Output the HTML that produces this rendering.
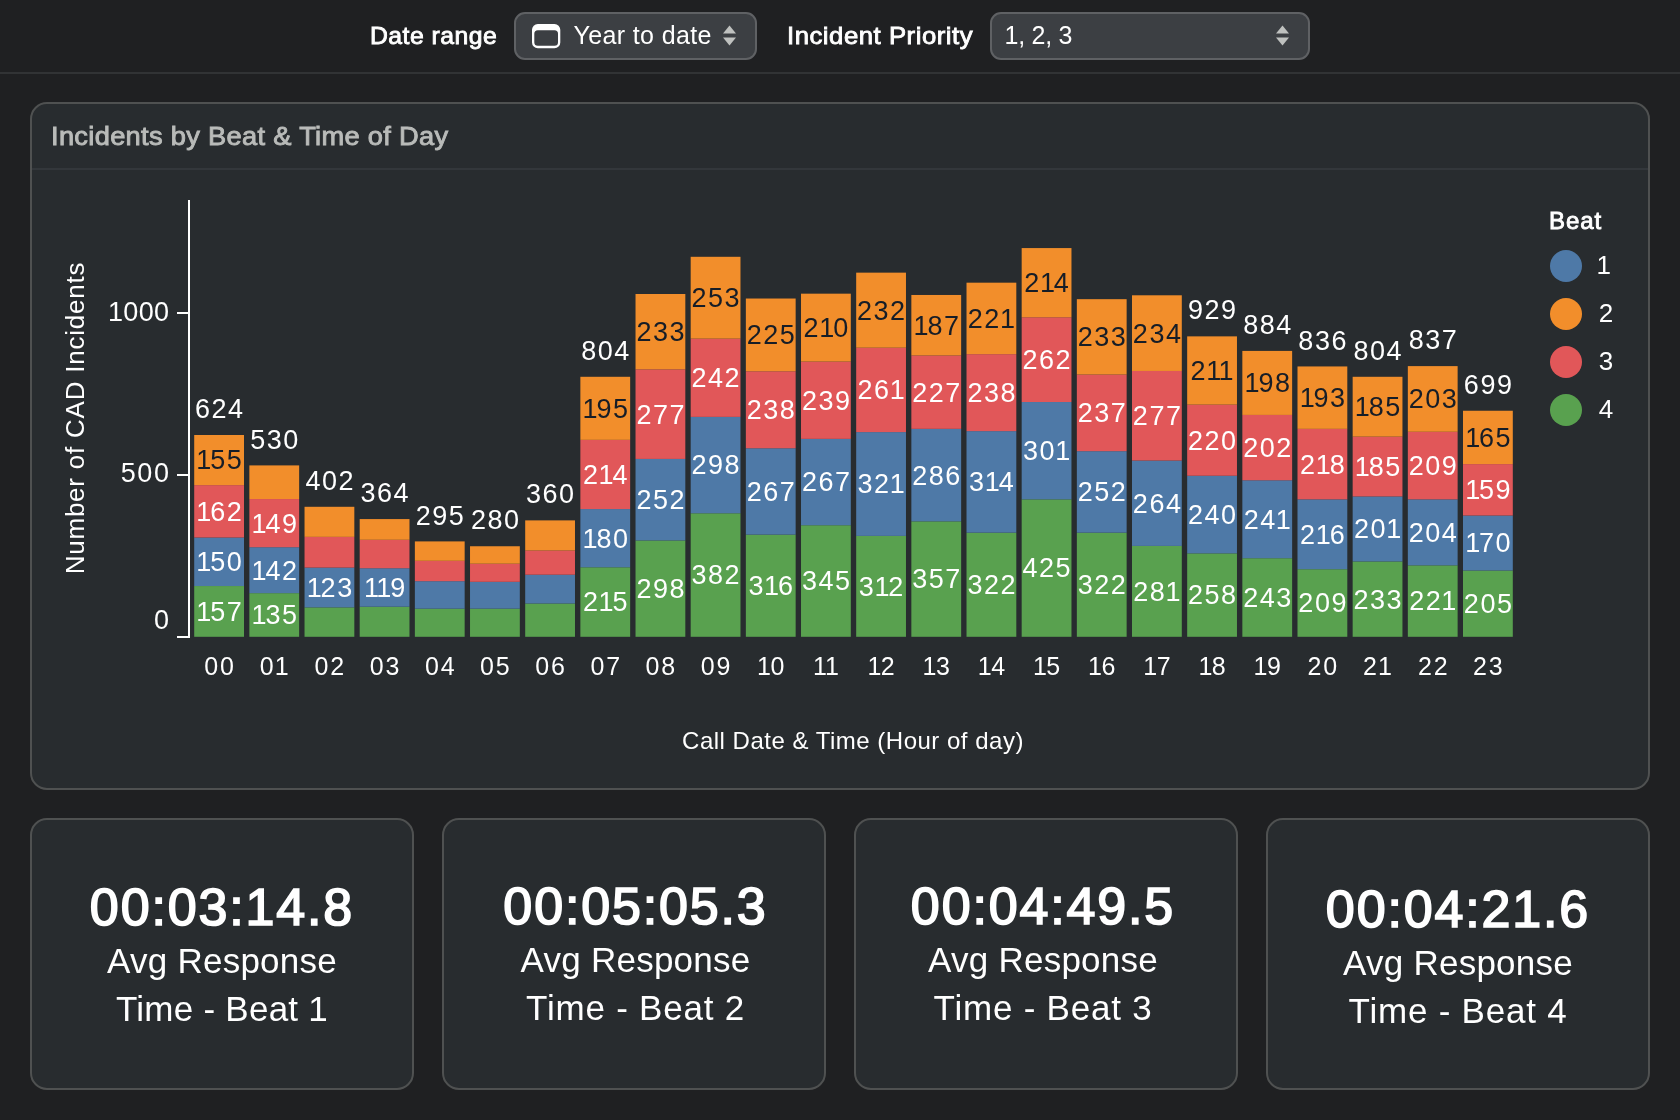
<!DOCTYPE html>
<html><head><meta charset="utf-8"><title>Incidents by Beat</title>
<style>
*{box-sizing:border-box;margin:0;padding:0}
html,body{width:1680px;height:1120px;overflow:hidden;background:#1f2022;font-family:"Liberation Sans",sans-serif;color:#fff}
.abs{position:absolute}
#topbar{position:absolute;left:0;top:0;width:1680px;height:74px;border-bottom:2px solid #313335}
.lbl{position:absolute;font-weight:normal;-webkit-text-stroke:0.85px #fff;font-size:24px;line-height:28px;white-space:nowrap;color:#fff}
.sel{position:absolute;top:12px;height:48px;border:2px solid #5f6164;border-radius:11px;background:#3c3f43}
.sel .txt{position:absolute;font-size:25px;line-height:28px;top:7px;white-space:nowrap;color:#fff}
.card{position:absolute;background:#282c2f;border:2px solid #4f5151;border-radius:17px}
#title{position:absolute;left:51px;top:120.7px;letter-spacing:0.3px;transform-origin:0 0;transform:scaleX(1.048);font-size:26px;line-height:30px;font-weight:normal;-webkit-text-stroke:0.9px #b9bbb9;color:#b9bbb9;white-space:nowrap}
#hdiv{position:absolute;left:32px;top:168px;width:1616px;height:2px;background:#33373b}
.kpi{position:absolute;width:382px;text-align:center;white-space:nowrap}
.kpi .n{position:absolute;left:0;width:100%;font-weight:normal;-webkit-text-stroke:1.7px #fff;font-size:52px;line-height:56px;letter-spacing:1.85px}
.kpi .t{position:absolute;left:0;width:100%;font-size:35px;line-height:48px;letter-spacing:0.25px}
svg text{font-family:"Liberation Sans",sans-serif}
.bl{font-size:27px;text-anchor:middle;dominant-baseline:central}
.xl{font-size:25px;text-anchor:middle;dominant-baseline:central;letter-spacing:2.2px}
.yl{font-size:27px;text-anchor:end;dominant-baseline:central}
#wrap{position:absolute;left:0;top:0;width:1680px;height:1120px;will-change:transform}
</style></head><body><div id="wrap">
<div id="topbar"></div>
<div class="lbl" style="left:370px;top:21.5px;letter-spacing:0.47px;transform-origin:0 0;transform:scaleX(1.03)">Date range</div>
<div class="sel" style="left:514px;width:243px">
 <svg class="abs" style="left:15.8px;top:9.8px" width="30" height="26" viewBox="0 0 30 26"><path fill="#fff" fill-rule="evenodd" d="M5.8 0 h16.700000000000003 a5.8 5.8 0 0 1 5.8 5.8 v12.6 a5.8 5.8 0 0 1 -5.8 5.8 h-16.700000000000003 a5.8 5.8 0 0 1 -5.8 -5.8 v-12.6 a5.8 5.8 0 0 1 5.8 -5.8 Z M5.8 6.3 h16.7 a3.5 3.5 0 0 1 3.5 3.5 v8.5 a3.5 3.5 0 0 1 -3.5 3.5 h-16.7 a3.5 3.5 0 0 1 -3.5 -3.5 v-8.5 a3.5 3.5 0 0 1 3.5 -3.5 Z"/></svg>
 <div class="txt" style="left:57.5px;letter-spacing:0.36px">Year to date</div>
 <svg class="abs" style="left:205.5px;top:10.2px" width="16" height="24" viewBox="0 0 16 24"><path d="M1 9.5 L7.5 1.5 L14 9.5 Z M1 13.5 L7.5 21.5 L14 13.5 Z" fill="#bfc1bf"/></svg>
</div>
<div class="lbl" style="left:787px;top:21.5px;letter-spacing:0.5px;transform-origin:0 0;transform:scaleX(1.07)">Incident Priority</div>
<div class="sel" style="left:990px;width:320px">
 <div class="txt" style="left:12.5px;letter-spacing:-0.25px">1, 2, 3</div>
 <svg class="abs" style="left:283px;top:10.2px" width="16" height="24" viewBox="0 0 16 24"><path d="M1 9.5 L7.5 1.5 L14 9.5 Z M1 13.5 L7.5 21.5 L14 13.5 Z" fill="#bfc1bf"/></svg>
</div>

<div class="card" style="left:30px;top:102px;width:1620px;height:688px"></div>
<div id="title">Incidents by Beat &amp; Time of Day</div>
<div id="hdiv"></div>

<svg class="abs" style="left:0;top:0" width="1680" height="800" viewBox="0 0 1680 800">
<rect x="188" y="200" width="2" height="438" fill="#fff"/>
<rect x="177" y="636" width="12" height="2" fill="#fff"/>
<rect x="177" y="474" width="12" height="2" fill="#fff"/>
<rect x="177" y="312" width="12" height="2" fill="#fff"/>
<text x="169.3" y="311.8" fill="#fff" class="yl" style="letter-spacing:0.3px">1000</text>
<text x="170.6" y="473.1" fill="#fff" class="yl" style="letter-spacing:1.6px">500</text>
<text x="169" y="620.1" fill="#fff" class="yl">0</text>
<text transform="translate(75,418) rotate(-90)" fill="#fff" style="font-size:26px;text-anchor:middle;dominant-baseline:central;letter-spacing:0.78px">Number of CAD Incidents</text>
<rect x="194.20" y="586.03" width="49.8" height="50.77" fill="#59a14f"/>
<rect x="194.20" y="537.52" width="49.8" height="48.51" fill="#4e79a7"/>
<rect x="194.20" y="485.13" width="49.8" height="52.39" fill="#e15759"/>
<rect x="194.20" y="435.00" width="49.8" height="50.13" fill="#f28e2b"/>
<rect x="249.36" y="593.14" width="49.8" height="43.66" fill="#59a14f"/>
<rect x="249.36" y="547.22" width="49.8" height="45.92" fill="#4e79a7"/>
<rect x="249.36" y="499.03" width="49.8" height="48.19" fill="#e15759"/>
<rect x="249.36" y="465.40" width="49.8" height="33.63" fill="#f28e2b"/>
<rect x="304.53" y="607.37" width="49.8" height="29.43" fill="#59a14f"/>
<rect x="304.53" y="567.59" width="49.8" height="39.78" fill="#4e79a7"/>
<rect x="304.53" y="536.87" width="49.8" height="30.72" fill="#e15759"/>
<rect x="304.53" y="506.79" width="49.8" height="30.08" fill="#f28e2b"/>
<rect x="359.69" y="606.72" width="49.8" height="30.08" fill="#59a14f"/>
<rect x="359.69" y="568.24" width="49.8" height="38.48" fill="#4e79a7"/>
<rect x="359.69" y="539.78" width="49.8" height="28.46" fill="#e15759"/>
<rect x="359.69" y="519.08" width="49.8" height="20.70" fill="#f28e2b"/>
<rect x="414.86" y="608.66" width="49.8" height="28.14" fill="#59a14f"/>
<rect x="414.86" y="581.18" width="49.8" height="27.49" fill="#4e79a7"/>
<rect x="414.86" y="560.80" width="49.8" height="20.37" fill="#e15759"/>
<rect x="414.86" y="541.40" width="49.8" height="19.40" fill="#f28e2b"/>
<rect x="470.02" y="608.66" width="49.8" height="28.14" fill="#59a14f"/>
<rect x="470.02" y="581.82" width="49.8" height="26.84" fill="#4e79a7"/>
<rect x="470.02" y="563.71" width="49.8" height="18.11" fill="#e15759"/>
<rect x="470.02" y="546.25" width="49.8" height="17.46" fill="#f28e2b"/>
<rect x="525.19" y="603.49" width="49.8" height="33.31" fill="#59a14f"/>
<rect x="525.19" y="574.71" width="49.8" height="28.78" fill="#4e79a7"/>
<rect x="525.19" y="550.45" width="49.8" height="24.25" fill="#e15759"/>
<rect x="525.19" y="520.38" width="49.8" height="30.08" fill="#f28e2b"/>
<rect x="580.36" y="567.27" width="49.8" height="69.53" fill="#59a14f"/>
<rect x="580.36" y="509.06" width="49.8" height="58.21" fill="#4e79a7"/>
<rect x="580.36" y="439.85" width="49.8" height="69.21" fill="#e15759"/>
<rect x="580.36" y="376.79" width="49.8" height="63.06" fill="#f28e2b"/>
<rect x="635.52" y="540.43" width="49.8" height="96.37" fill="#59a14f"/>
<rect x="635.52" y="458.93" width="49.8" height="81.50" fill="#4e79a7"/>
<rect x="635.52" y="369.35" width="49.8" height="89.58" fill="#e15759"/>
<rect x="635.52" y="294.00" width="49.8" height="75.35" fill="#f28e2b"/>
<rect x="690.68" y="513.26" width="49.8" height="123.54" fill="#59a14f"/>
<rect x="690.68" y="416.89" width="49.8" height="96.37" fill="#4e79a7"/>
<rect x="690.68" y="338.63" width="49.8" height="78.26" fill="#e15759"/>
<rect x="690.68" y="256.80" width="49.8" height="81.82" fill="#f28e2b"/>
<rect x="745.85" y="534.61" width="49.8" height="102.19" fill="#59a14f"/>
<rect x="745.85" y="448.26" width="49.8" height="86.35" fill="#4e79a7"/>
<rect x="745.85" y="371.29" width="49.8" height="76.97" fill="#e15759"/>
<rect x="745.85" y="298.52" width="49.8" height="72.76" fill="#f28e2b"/>
<rect x="801.01" y="525.23" width="49.8" height="111.57" fill="#59a14f"/>
<rect x="801.01" y="438.88" width="49.8" height="86.35" fill="#4e79a7"/>
<rect x="801.01" y="361.59" width="49.8" height="77.29" fill="#e15759"/>
<rect x="801.01" y="293.67" width="49.8" height="67.91" fill="#f28e2b"/>
<rect x="856.18" y="535.90" width="49.8" height="100.90" fill="#59a14f"/>
<rect x="856.18" y="432.09" width="49.8" height="103.81" fill="#4e79a7"/>
<rect x="856.18" y="347.68" width="49.8" height="84.41" fill="#e15759"/>
<rect x="856.18" y="272.65" width="49.8" height="75.03" fill="#f28e2b"/>
<rect x="911.35" y="521.35" width="49.8" height="115.45" fill="#59a14f"/>
<rect x="911.35" y="428.85" width="49.8" height="92.49" fill="#4e79a7"/>
<rect x="911.35" y="355.44" width="49.8" height="73.41" fill="#e15759"/>
<rect x="911.35" y="294.97" width="49.8" height="60.48" fill="#f28e2b"/>
<rect x="966.51" y="532.67" width="49.8" height="104.13" fill="#59a14f"/>
<rect x="966.51" y="431.12" width="49.8" height="101.55" fill="#4e79a7"/>
<rect x="966.51" y="354.15" width="49.8" height="76.97" fill="#e15759"/>
<rect x="966.51" y="282.68" width="49.8" height="71.47" fill="#f28e2b"/>
<rect x="1021.67" y="499.35" width="49.8" height="137.45" fill="#59a14f"/>
<rect x="1021.67" y="402.01" width="49.8" height="97.34" fill="#4e79a7"/>
<rect x="1021.67" y="317.28" width="49.8" height="84.73" fill="#e15759"/>
<rect x="1021.67" y="248.07" width="49.8" height="69.21" fill="#f28e2b"/>
<rect x="1076.84" y="532.67" width="49.8" height="104.13" fill="#59a14f"/>
<rect x="1076.84" y="451.17" width="49.8" height="81.50" fill="#4e79a7"/>
<rect x="1076.84" y="374.52" width="49.8" height="76.65" fill="#e15759"/>
<rect x="1076.84" y="299.17" width="49.8" height="75.35" fill="#f28e2b"/>
<rect x="1132.00" y="545.92" width="49.8" height="90.88" fill="#59a14f"/>
<rect x="1132.00" y="460.55" width="49.8" height="85.38" fill="#4e79a7"/>
<rect x="1132.00" y="370.97" width="49.8" height="89.58" fill="#e15759"/>
<rect x="1132.00" y="295.29" width="49.8" height="75.68" fill="#f28e2b"/>
<rect x="1187.17" y="553.36" width="49.8" height="83.44" fill="#59a14f"/>
<rect x="1187.17" y="475.75" width="49.8" height="77.62" fill="#4e79a7"/>
<rect x="1187.17" y="404.60" width="49.8" height="71.15" fill="#e15759"/>
<rect x="1187.17" y="336.36" width="49.8" height="68.24" fill="#f28e2b"/>
<rect x="1242.34" y="558.21" width="49.8" height="78.59" fill="#59a14f"/>
<rect x="1242.34" y="480.27" width="49.8" height="77.94" fill="#4e79a7"/>
<rect x="1242.34" y="414.95" width="49.8" height="65.33" fill="#e15759"/>
<rect x="1242.34" y="350.91" width="49.8" height="64.03" fill="#f28e2b"/>
<rect x="1297.50" y="569.21" width="49.8" height="67.59" fill="#59a14f"/>
<rect x="1297.50" y="499.35" width="49.8" height="69.85" fill="#4e79a7"/>
<rect x="1297.50" y="428.85" width="49.8" height="70.50" fill="#e15759"/>
<rect x="1297.50" y="366.44" width="49.8" height="62.42" fill="#f28e2b"/>
<rect x="1352.66" y="561.45" width="49.8" height="75.35" fill="#59a14f"/>
<rect x="1352.66" y="496.44" width="49.8" height="65.00" fill="#4e79a7"/>
<rect x="1352.66" y="436.62" width="49.8" height="59.83" fill="#e15759"/>
<rect x="1352.66" y="376.79" width="49.8" height="59.83" fill="#f28e2b"/>
<rect x="1407.83" y="565.33" width="49.8" height="71.47" fill="#59a14f"/>
<rect x="1407.83" y="499.35" width="49.8" height="65.97" fill="#4e79a7"/>
<rect x="1407.83" y="431.76" width="49.8" height="67.59" fill="#e15759"/>
<rect x="1407.83" y="366.11" width="49.8" height="65.65" fill="#f28e2b"/>
<rect x="1463.00" y="570.50" width="49.8" height="66.30" fill="#59a14f"/>
<rect x="1463.00" y="515.52" width="49.8" height="54.98" fill="#4e79a7"/>
<rect x="1463.00" y="464.10" width="49.8" height="51.42" fill="#e15759"/>
<rect x="1463.00" y="410.74" width="49.8" height="53.36" fill="#f28e2b"/>
<text x="219.85" y="611.81" fill="#fff" class="bl" style="letter-spacing:1.5px">1<tspan dx="-2.6">5</tspan>7</text>
<text x="219.85" y="562.17" fill="#fff" class="bl" style="letter-spacing:1.5px">1<tspan dx="-2.6">5</tspan>0</text>
<text x="219.85" y="511.72" fill="#fff" class="bl" style="letter-spacing:1.5px">1<tspan dx="-2.6">6</tspan>2</text>
<text x="219.85" y="460.46" fill="#161d27" class="bl" style="letter-spacing:1.5px">1<tspan dx="-2.6">5</tspan>5</text>
<text x="219.85" y="409.10" fill="#fff" class="bl" style="letter-spacing:1.5px">624</text>
<text x="220.05" y="666.3" fill="#fff" class="xl" style="letter-spacing:1.9px">00</text>
<text x="275.01" y="615.37" fill="#fff" class="bl" style="letter-spacing:1.5px">1<tspan dx="-2.6">3</tspan>5</text>
<text x="275.01" y="570.58" fill="#fff" class="bl" style="letter-spacing:1.5px">1<tspan dx="-2.6">4</tspan>2</text>
<text x="275.01" y="523.52" fill="#fff" class="bl" style="letter-spacing:1.5px">1<tspan dx="-2.6">4</tspan>9</text>
<text x="275.01" y="439.50" fill="#fff" class="bl" style="letter-spacing:1.5px">530</text>
<text x="275.21" y="666.3" fill="#fff" class="xl" style="letter-spacing:1.9px">0<tspan dx="-0.8">1</tspan></text>
<text x="330.18" y="587.88" fill="#fff" class="bl" style="letter-spacing:1.5px">1<tspan dx="-2.6">2</tspan>3</text>
<text x="330.18" y="480.89" fill="#fff" class="bl" style="letter-spacing:1.5px">402</text>
<text x="330.38" y="666.3" fill="#fff" class="xl" style="letter-spacing:1.9px">02</text>
<text x="385.34" y="587.88" fill="#fff" class="bl" style="letter-spacing:1.5px">1<tspan dx="-2.1">1</tspan><tspan dx="-2.6">9</tspan></text>
<text x="385.34" y="493.18" fill="#fff" class="bl" style="letter-spacing:1.5px">364</text>
<text x="385.54" y="666.3" fill="#fff" class="xl" style="letter-spacing:1.9px">03</text>
<text x="440.51" y="515.50" fill="#fff" class="bl" style="letter-spacing:1.5px">295</text>
<text x="440.71" y="666.3" fill="#fff" class="xl" style="letter-spacing:1.9px">04</text>
<text x="495.67" y="520.35" fill="#fff" class="bl" style="letter-spacing:1.5px">280</text>
<text x="495.87" y="666.3" fill="#fff" class="xl" style="letter-spacing:1.9px">05</text>
<text x="550.84" y="494.48" fill="#fff" class="bl" style="letter-spacing:1.5px">360</text>
<text x="551.04" y="666.3" fill="#fff" class="xl" style="letter-spacing:1.9px">06</text>
<text x="606.00" y="602.43" fill="#fff" class="bl" style="letter-spacing:1.5px">2<tspan dx="-0.9">1</tspan><tspan dx="-2.6">5</tspan></text>
<text x="606.00" y="538.56" fill="#fff" class="bl" style="letter-spacing:1.5px">1<tspan dx="-2.6">8</tspan>0</text>
<text x="606.00" y="474.85" fill="#fff" class="bl" style="letter-spacing:1.5px">2<tspan dx="-0.9">1</tspan><tspan dx="-2.6">4</tspan></text>
<text x="606.00" y="408.72" fill="#161d27" class="bl" style="letter-spacing:1.5px">1<tspan dx="-2.6">9</tspan>5</text>
<text x="606.00" y="350.89" fill="#fff" class="bl" style="letter-spacing:1.5px">804</text>
<text x="606.21" y="666.3" fill="#fff" class="xl" style="letter-spacing:1.9px">07</text>
<text x="661.17" y="589.01" fill="#fff" class="bl" style="letter-spacing:1.5px">298</text>
<text x="661.17" y="500.08" fill="#fff" class="bl" style="letter-spacing:1.5px">252</text>
<text x="661.17" y="414.54" fill="#fff" class="bl" style="letter-spacing:1.5px">277</text>
<text x="661.17" y="332.07" fill="#161d27" class="bl" style="letter-spacing:1.5px">233</text>
<text x="661.37" y="666.3" fill="#fff" class="xl" style="letter-spacing:1.9px">08</text>
<text x="716.33" y="575.43" fill="#fff" class="bl" style="letter-spacing:1.5px">382</text>
<text x="716.33" y="465.47" fill="#fff" class="bl" style="letter-spacing:1.5px">298</text>
<text x="716.33" y="378.16" fill="#fff" class="bl" style="letter-spacing:1.5px">242</text>
<text x="716.33" y="298.12" fill="#161d27" class="bl" style="letter-spacing:1.5px">253</text>
<text x="716.53" y="666.3" fill="#fff" class="xl" style="letter-spacing:1.9px">09</text>
<text x="771.50" y="586.10" fill="#fff" class="bl" style="letter-spacing:1.5px">3<tspan dx="-0.9">1</tspan><tspan dx="-2.6">6</tspan></text>
<text x="771.50" y="491.83" fill="#fff" class="bl" style="letter-spacing:1.5px">267</text>
<text x="771.50" y="410.17" fill="#fff" class="bl" style="letter-spacing:1.5px">238</text>
<text x="771.50" y="335.31" fill="#161d27" class="bl" style="letter-spacing:1.5px">225</text>
<text x="771.70" y="666.3" fill="#fff" class="xl" style="letter-spacing:1.9px">1<tspan dx="-2.4">0</tspan></text>
<text x="826.66" y="581.41" fill="#fff" class="bl" style="letter-spacing:1.5px">345</text>
<text x="826.66" y="482.45" fill="#fff" class="bl" style="letter-spacing:1.5px">267</text>
<text x="826.66" y="400.63" fill="#fff" class="bl" style="letter-spacing:1.5px">239</text>
<text x="826.66" y="328.03" fill="#161d27" class="bl" style="letter-spacing:1.5px">2<tspan dx="-0.9">1</tspan><tspan dx="-2.6">0</tspan></text>
<text x="826.86" y="666.3" fill="#fff" class="xl" style="letter-spacing:1.9px">1<tspan dx="-1.9">1</tspan></text>
<text x="881.83" y="586.75" fill="#fff" class="bl" style="letter-spacing:1.5px">3<tspan dx="-0.9">1</tspan><tspan dx="-2.6">2</tspan></text>
<text x="881.83" y="484.39" fill="#fff" class="bl" style="letter-spacing:1.5px">32<tspan dx="-0.9">1</tspan></text>
<text x="881.83" y="390.28" fill="#fff" class="bl" style="letter-spacing:1.5px">26<tspan dx="-0.9">1</tspan></text>
<text x="881.83" y="310.57" fill="#161d27" class="bl" style="letter-spacing:1.5px">232</text>
<text x="882.03" y="666.3" fill="#fff" class="xl" style="letter-spacing:1.9px">1<tspan dx="-2.4">2</tspan></text>
<text x="937.00" y="579.47" fill="#fff" class="bl" style="letter-spacing:1.5px">357</text>
<text x="937.00" y="475.50" fill="#fff" class="bl" style="letter-spacing:1.5px">286</text>
<text x="937.00" y="392.55" fill="#fff" class="bl" style="letter-spacing:1.5px">227</text>
<text x="937.00" y="325.60" fill="#161d27" class="bl" style="letter-spacing:1.5px">1<tspan dx="-2.6">8</tspan>7</text>
<text x="937.20" y="666.3" fill="#fff" class="xl" style="letter-spacing:1.9px">1<tspan dx="-2.4">3</tspan></text>
<text x="992.16" y="585.13" fill="#fff" class="bl" style="letter-spacing:1.5px">322</text>
<text x="992.16" y="482.29" fill="#fff" class="bl" style="letter-spacing:1.5px">3<tspan dx="-0.9">1</tspan><tspan dx="-2.6">4</tspan></text>
<text x="992.16" y="393.03" fill="#fff" class="bl" style="letter-spacing:1.5px">238</text>
<text x="992.16" y="318.81" fill="#161d27" class="bl" style="letter-spacing:1.5px">22<tspan dx="-0.9">1</tspan></text>
<text x="992.36" y="666.3" fill="#fff" class="xl" style="letter-spacing:1.9px">1<tspan dx="-2.4">4</tspan></text>
<text x="1047.33" y="568.48" fill="#fff" class="bl" style="letter-spacing:1.5px">425</text>
<text x="1047.33" y="451.08" fill="#fff" class="bl" style="letter-spacing:1.5px">30<tspan dx="-0.9">1</tspan></text>
<text x="1047.33" y="360.05" fill="#fff" class="bl" style="letter-spacing:1.5px">262</text>
<text x="1047.33" y="283.08" fill="#161d27" class="bl" style="letter-spacing:1.5px">2<tspan dx="-0.9">1</tspan><tspan dx="-2.6">4</tspan></text>
<text x="1047.53" y="666.3" fill="#fff" class="xl" style="letter-spacing:1.9px">1<tspan dx="-2.4">5</tspan></text>
<text x="1102.49" y="585.13" fill="#fff" class="bl" style="letter-spacing:1.5px">322</text>
<text x="1102.49" y="492.32" fill="#fff" class="bl" style="letter-spacing:1.5px">252</text>
<text x="1102.49" y="413.25" fill="#fff" class="bl" style="letter-spacing:1.5px">237</text>
<text x="1102.49" y="337.25" fill="#161d27" class="bl" style="letter-spacing:1.5px">233</text>
<text x="1102.69" y="666.3" fill="#fff" class="xl" style="letter-spacing:1.9px">1<tspan dx="-2.4">6</tspan></text>
<text x="1157.65" y="591.76" fill="#fff" class="bl" style="letter-spacing:1.5px">28<tspan dx="-0.9">1</tspan></text>
<text x="1157.65" y="503.64" fill="#fff" class="bl" style="letter-spacing:1.5px">264</text>
<text x="1157.65" y="416.16" fill="#fff" class="bl" style="letter-spacing:1.5px">277</text>
<text x="1157.65" y="333.53" fill="#161d27" class="bl" style="letter-spacing:1.5px">234</text>
<text x="1157.86" y="666.3" fill="#fff" class="xl" style="letter-spacing:1.9px">1<tspan dx="-2.4">7</tspan></text>
<text x="1212.82" y="595.48" fill="#fff" class="bl" style="letter-spacing:1.5px">258</text>
<text x="1212.82" y="514.95" fill="#fff" class="bl" style="letter-spacing:1.5px">240</text>
<text x="1212.82" y="440.57" fill="#fff" class="bl" style="letter-spacing:1.5px">220</text>
<text x="1212.82" y="370.88" fill="#161d27" class="bl" style="letter-spacing:1.5px">2<tspan dx="-0.9">1</tspan><tspan dx="-2.1">1</tspan></text>
<text x="1212.82" y="310.46" fill="#fff" class="bl" style="letter-spacing:1.5px">929</text>
<text x="1213.02" y="666.3" fill="#fff" class="xl" style="letter-spacing:1.9px">1<tspan dx="-2.4">8</tspan></text>
<text x="1267.99" y="597.91" fill="#fff" class="bl" style="letter-spacing:1.5px">243</text>
<text x="1267.99" y="519.64" fill="#fff" class="bl" style="letter-spacing:1.5px">24<tspan dx="-0.9">1</tspan></text>
<text x="1267.99" y="448.01" fill="#fff" class="bl" style="letter-spacing:1.5px">202</text>
<text x="1267.99" y="383.33" fill="#161d27" class="bl" style="letter-spacing:1.5px">1<tspan dx="-2.6">9</tspan>8</text>
<text x="1267.99" y="325.01" fill="#fff" class="bl" style="letter-spacing:1.5px">884</text>
<text x="1268.19" y="666.3" fill="#fff" class="xl" style="letter-spacing:1.9px">1<tspan dx="-2.4">9</tspan></text>
<text x="1323.15" y="603.40" fill="#fff" class="bl" style="letter-spacing:1.5px">209</text>
<text x="1323.15" y="534.68" fill="#fff" class="bl" style="letter-spacing:1.5px">2<tspan dx="-0.9">1</tspan><tspan dx="-2.6">6</tspan></text>
<text x="1323.15" y="464.50" fill="#fff" class="bl" style="letter-spacing:1.5px">2<tspan dx="-0.9">1</tspan><tspan dx="-2.6">8</tspan></text>
<text x="1323.15" y="398.05" fill="#161d27" class="bl" style="letter-spacing:1.5px">1<tspan dx="-2.6">9</tspan>3</text>
<text x="1323.15" y="340.54" fill="#fff" class="bl" style="letter-spacing:1.5px">836</text>
<text x="1323.35" y="666.3" fill="#fff" class="xl" style="letter-spacing:1.9px">20</text>
<text x="1378.32" y="599.52" fill="#fff" class="bl" style="letter-spacing:1.5px">233</text>
<text x="1378.32" y="529.35" fill="#fff" class="bl" style="letter-spacing:1.5px">20<tspan dx="-0.9">1</tspan></text>
<text x="1378.32" y="466.93" fill="#fff" class="bl" style="letter-spacing:1.5px">1<tspan dx="-2.6">8</tspan>5</text>
<text x="1378.32" y="407.10" fill="#161d27" class="bl" style="letter-spacing:1.5px">1<tspan dx="-2.6">8</tspan>5</text>
<text x="1378.32" y="350.89" fill="#fff" class="bl" style="letter-spacing:1.5px">804</text>
<text x="1378.52" y="666.3" fill="#fff" class="xl" style="letter-spacing:1.9px">2<tspan dx="-0.8">1</tspan></text>
<text x="1433.48" y="601.46" fill="#fff" class="bl" style="letter-spacing:1.5px">22<tspan dx="-0.9">1</tspan></text>
<text x="1433.48" y="532.74" fill="#fff" class="bl" style="letter-spacing:1.5px">204</text>
<text x="1433.48" y="465.96" fill="#fff" class="bl" style="letter-spacing:1.5px">209</text>
<text x="1433.48" y="399.34" fill="#161d27" class="bl" style="letter-spacing:1.5px">203</text>
<text x="1433.48" y="340.21" fill="#fff" class="bl" style="letter-spacing:1.5px">837</text>
<text x="1433.68" y="666.3" fill="#fff" class="xl" style="letter-spacing:1.9px">22</text>
<text x="1488.65" y="604.05" fill="#fff" class="bl" style="letter-spacing:1.5px">205</text>
<text x="1488.65" y="543.41" fill="#fff" class="bl" style="letter-spacing:1.5px">1<tspan dx="-2.6">7</tspan>0</text>
<text x="1488.65" y="490.21" fill="#fff" class="bl" style="letter-spacing:1.5px">1<tspan dx="-2.6">5</tspan>9</text>
<text x="1488.65" y="437.82" fill="#161d27" class="bl" style="letter-spacing:1.5px">1<tspan dx="-2.6">6</tspan>5</text>
<text x="1488.65" y="384.84" fill="#fff" class="bl" style="letter-spacing:1.5px">699</text>
<text x="1488.85" y="666.3" fill="#fff" class="xl" style="letter-spacing:1.9px">23</text>

<text x="853" y="740.5" fill="#fff" style="font-size:24px;text-anchor:middle;dominant-baseline:central;letter-spacing:0.5px">Call Date &amp; Time (Hour of day)</text>
<text x="1549" y="229" fill="#fff" style="font-size:24px;stroke:#fff;stroke-width:0.85px;letter-spacing:0.9px">Beat</text>
<circle cx="1566" cy="266" r="16" fill="#4e79a7"/><circle cx="1566" cy="314" r="16" fill="#f28e2b"/>
<circle cx="1566" cy="362" r="16" fill="#e15759"/><circle cx="1566" cy="410" r="16" fill="#59a14f"/>
<text x="1596.5" y="265" fill="#fff" style="font-size:26px;dominant-baseline:central">1</text>
<text x="1598.8" y="313" fill="#fff" style="font-size:26px;dominant-baseline:central">2</text>
<text x="1598.8" y="361" fill="#fff" style="font-size:26px;dominant-baseline:central">3</text>
<text x="1598.8" y="409" fill="#fff" style="font-size:26px;dominant-baseline:central">4</text>
</svg>

<div class="card" style="left:30px;top:818px;width:384px;height:272px"></div>
<div class="card" style="left:442px;top:818px;width:384px;height:272px"></div>
<div class="card" style="left:854px;top:818px;width:384px;height:272px"></div>
<div class="card" style="left:1266px;top:818px;width:384px;height:272px"></div>

<div class="kpi" style="left:31px;top:0"><div class="n" style="top:879px">00:03:14.8</div><div class="t" style="top:937px">Avg Response</div><div class="t" style="top:985px">Time - Beat 1</div></div>
<div class="kpi" style="left:444.5px;top:0"><div class="n" style="top:878px">00:05:05.3</div><div class="t" style="top:936px">Avg Response</div><div class="t" style="top:984px;letter-spacing:0.78px">Time - Beat 2</div></div>
<div class="kpi" style="left:852px;top:0"><div class="n" style="top:878px">00:04:49.5</div><div class="t" style="top:936px">Avg Response</div><div class="t" style="top:984px;letter-spacing:0.78px">Time - Beat 3</div></div>
<div class="kpi" style="left:1267px;top:0"><div class="n" style="top:881px">00:04:21.6</div><div class="t" style="top:939px">Avg Response</div><div class="t" style="top:987px;letter-spacing:0.78px">Time - Beat 4</div></div>
</div></body></html>
